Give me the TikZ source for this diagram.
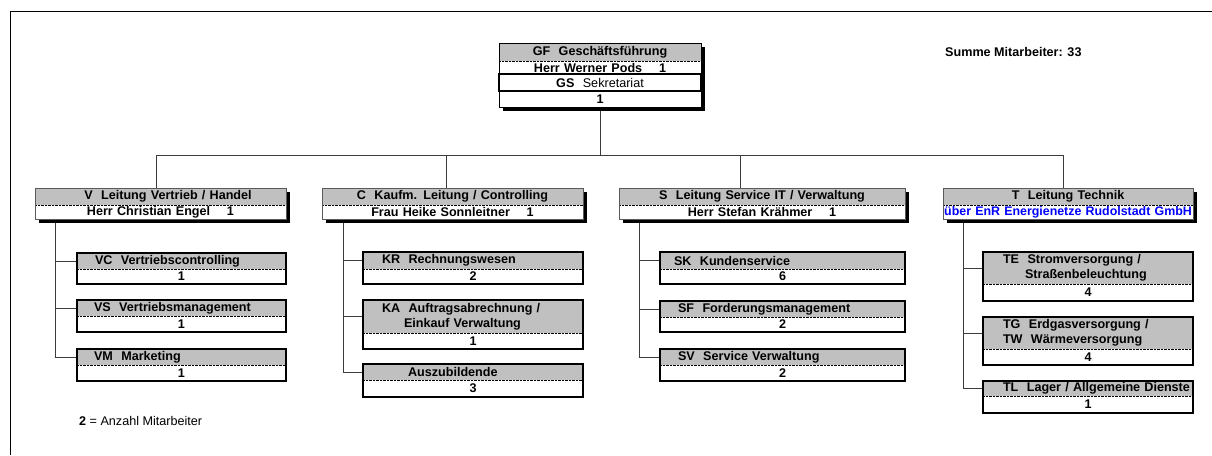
\documentclass[tikz,border=0pt]{standalone}
\usepackage{fontspec}
\setmainfont{Liberation Sans}
\definecolor{hdrgray}{RGB}{192,192,192}
\definecolor{linegray}{RGB}{60,60,60}
\definecolor{framegray}{RGB}{90,90,90}
\definecolor{tblue}{RGB}{0,0,255}
\pgfdeclarelayer{background}
\pgfsetlayers{background,main}
\newcommand\childbox[8]{% name, x, y, w, hdr h, row h, hdr text, row text
  \node[hdr, text width=#4pt, minimum height=#5pt, align=left] (#1h) at (#2,#3) {#7};
  \node[rowc, text width=#4pt, minimum height=#6pt] (#1r) at (#1h.south west) {#8};
  \draw[dotsep] (#1h.south west) -- (#1h.south east);
  \draw[childframe] (#1h.north west) rectangle (#1r.south east);
  \draw[childshade] (#1r.south west) -- (#1r.south east) -- (#1h.north east);
}
\newcommand\topbox[6]{% name, x, y, w, hdr text, row text
  \fill[black] ({#2+4},{#3+4}) rectangle ({#2+#4+4},{#3+35});
  \node[hdr, text width=#4pt, minimum height=17pt, align=center] (#1h) at (#2,#3) {#5};
  \node[rowc, text width=#4pt, minimum height=14pt] (#1r) at (#1h.south west) {#6};
  \draw[dotsep] (#1h.south west) -- (#1h.south east);
  \draw[topframe] (#1h.north west) rectangle (#1r.south east);
}
\begin{document}
\begin{tikzpicture}[x=1pt,y=-1pt,
  font=\fontsize{12.6}{15}\selectfont\bfseries,
  hdr/.style={fill=hdrgray, inner sep=0pt, outer sep=0pt, anchor=north west},
  rowc/.style={fill=white, inner sep=0pt, outer sep=0pt, anchor=north west, align=center},
  dotsep/.style={line width=0.7pt, dash pattern=on 0.7pt off 0.7pt, black},
  childframe/.style={line width=1.1pt, black},
  childshade/.style={line width=1.8pt, black},
  topframe/.style={line width=0.8pt, framegray},
  conn/.style={line width=1pt, linegray}]
\useasboundingbox (0,0) rectangle (1212,455);
% outer frame
\draw[line width=1pt, black] (10,455) -- (10,11) -- (1212,11);

% top box GF
\fill[black] (503,47) rectangle (705,111);
\node[hdr, text width=202pt, minimum height=18pt, align=center] (GFh) at (499,43) {GF\ \ Geschäftsführung};
\node[rowc, text width=202pt, minimum height=13pt] (GFr) at (GFh.south west) {Herr Werner Pods\ \ \ \ 1};
\node[rowc, text width=202pt, minimum height=17pt] (GS) at (GFr.south west) {GS\ \ \mdseries Sekretariat};
\node[rowc, text width=202pt, minimum height=16pt] (GSr) at (GS.south west) {1};
\draw[dotsep] (GFh.south west) -- (GFh.south east);
\draw[line width=1.3pt, black] (GS.north west) rectangle (GS.south east);
\draw[line width=1pt, black] (GFh.north west) rectangle (GSr.south east);

% second level
\topbox{V}{35}{188}{251}{\hspace*{15pt}V\ \ Leitung Vertrieb / Handel}{Herr Christian Engel\ \ \ \ 1}
\topbox{C}{322}{188}{261}{C\ \ Kaufm. Leitung / Controlling}{Frau Heike Sonnleitner\ \ \ \ 1}
\topbox{S}{619}{188}{286}{S\ \ Leitung Service IT / Verwaltung}{Herr Stefan Krähmer\ \ \ \ 1}
\topbox{T}{943}{188}{250}{T\ \ Leitung Technik\hspace*{21pt}}{\makebox[250pt][c]{\fontsize{12.4}{15}\selectfont\color{tblue}über EnR Energienetze Rudolstadt GmbH}}

% children V
\childbox{VC}{77}{253}{209}{16}{15}{\hspace*{18pt}VC\ \ Vertriebscontrolling}{1}
\childbox{VS}{77}{300}{209}{16}{16}{\hspace*{17pt}VS\ \ Vertriebsmanagement}{1}
\childbox{VM}{77}{349}{209}{16}{16}{\hspace*{17pt}VM\ \ Marketing}{1}
% children C
\childbox{KR}{363}{252}{220}{17}{15}{\hspace*{19pt}KR\ \ Rechnungswesen}{2}
\childbox{KA}{363}{300}{220}{33}{16}{\hspace*{19pt}KA\ \ Auftragsabrechnung /\\\hspace*{41pt}Einkauf Verwaltung}{1}
\childbox{AZ}{363}{364}{220}{16}{17}{\hspace*{45pt}Auszubildende}{3}
% children S
\childbox{SK}{660}{252}{245}{17}{15}{\hspace*{14pt}SK\ \ Kundenservice}{6}
\childbox{SF}{660}{301}{245}{16}{15}{\hspace*{18pt}SF\ \ Forderungsmanagement}{2}
\childbox{SV}{660}{349}{245}{16}{16}{\hspace*{18pt}SV\ \ Service Verwaltung}{2}
% children T
\childbox{TE}{983}{252}{210}{32}{17}{\hspace*{20pt}TE\ \ Stromversorgung /\\\hspace*{42pt}Straßenbeleuchtung}{4}
\childbox{TG}{983}{317}{210}{32}{16}{\hspace*{20pt}TG\ \ Erdgasversorgung /\\\hspace*{20pt}TW\ \ Wärmeversorgung}{4}
\childbox{TL}{983}{381}{210}{15}{17}{\hspace*{20pt}TL\ \ Lager / Allgemeine Dienste}{1}

% texts
\node[anchor=west, inner sep=0pt] (summe) at (945,52) {Summe Mitarbeiter: 33};
\node[anchor=west, inner sep=0pt, font=\fontsize{12.6}{15}\selectfont\mdseries] (legend) at (79,421) {\textbf{2} = Anzahl Mitarbeiter};

% connectors
\begin{pgfonlayer}{background}
\coordinate (dV) at (156,155);
\coordinate (dC) at (446,155);
\coordinate (dS) at (740,155);
\coordinate (dT) at (1063,155);
\draw[conn] (GSr.south) -- (GSr.south |- dV);
\draw[conn] (dV) -- (dT);
\draw[conn] (dV) -- (dV |- Vh.north);
\draw[conn] (dC) -- (dC |- Ch.north);
\draw[conn] (dS) -- (dS |- Sh.north);
\draw[conn] (dT) -- (dT |- Th.north);
\coordinate (sV) at (55,0);
\coordinate (sC) at (343,0);
\coordinate (sS) at (639,0);
\coordinate (sT) at (963,0);
\draw[conn] (Vr.south -| sV) -- (VMh.west -| sV) -- (VMh.west);
\draw[conn] (VCh.west -| sV) -- (VCh.west);
\draw[conn] (VSh.west -| sV) -- (VSh.west);
\draw[conn] (Cr.south -| sC) -- (AZh.west -| sC) -- (AZh.west);
\draw[conn] (KRh.west -| sC) -- (KRh.west);
\draw[conn] (KAh.west -| sC) -- (KAh.west);
\draw[conn] (Sr.south -| sS) -- (SVh.west -| sS) -- (SVh.west);
\draw[conn] (SKh.west -| sS) -- (SKh.west);
\draw[conn] (SFh.west -| sS) -- (SFh.west);
\draw[conn] (Tr.south -| sT) -- (TLh.west -| sT) -- (TLh.west);
\draw[conn] (TEh.west -| sT) -- (TEh.west);
\draw[conn] (TGh.west -| sT) -- (TGh.west);
\end{pgfonlayer}
\end{tikzpicture}
\end{document}
